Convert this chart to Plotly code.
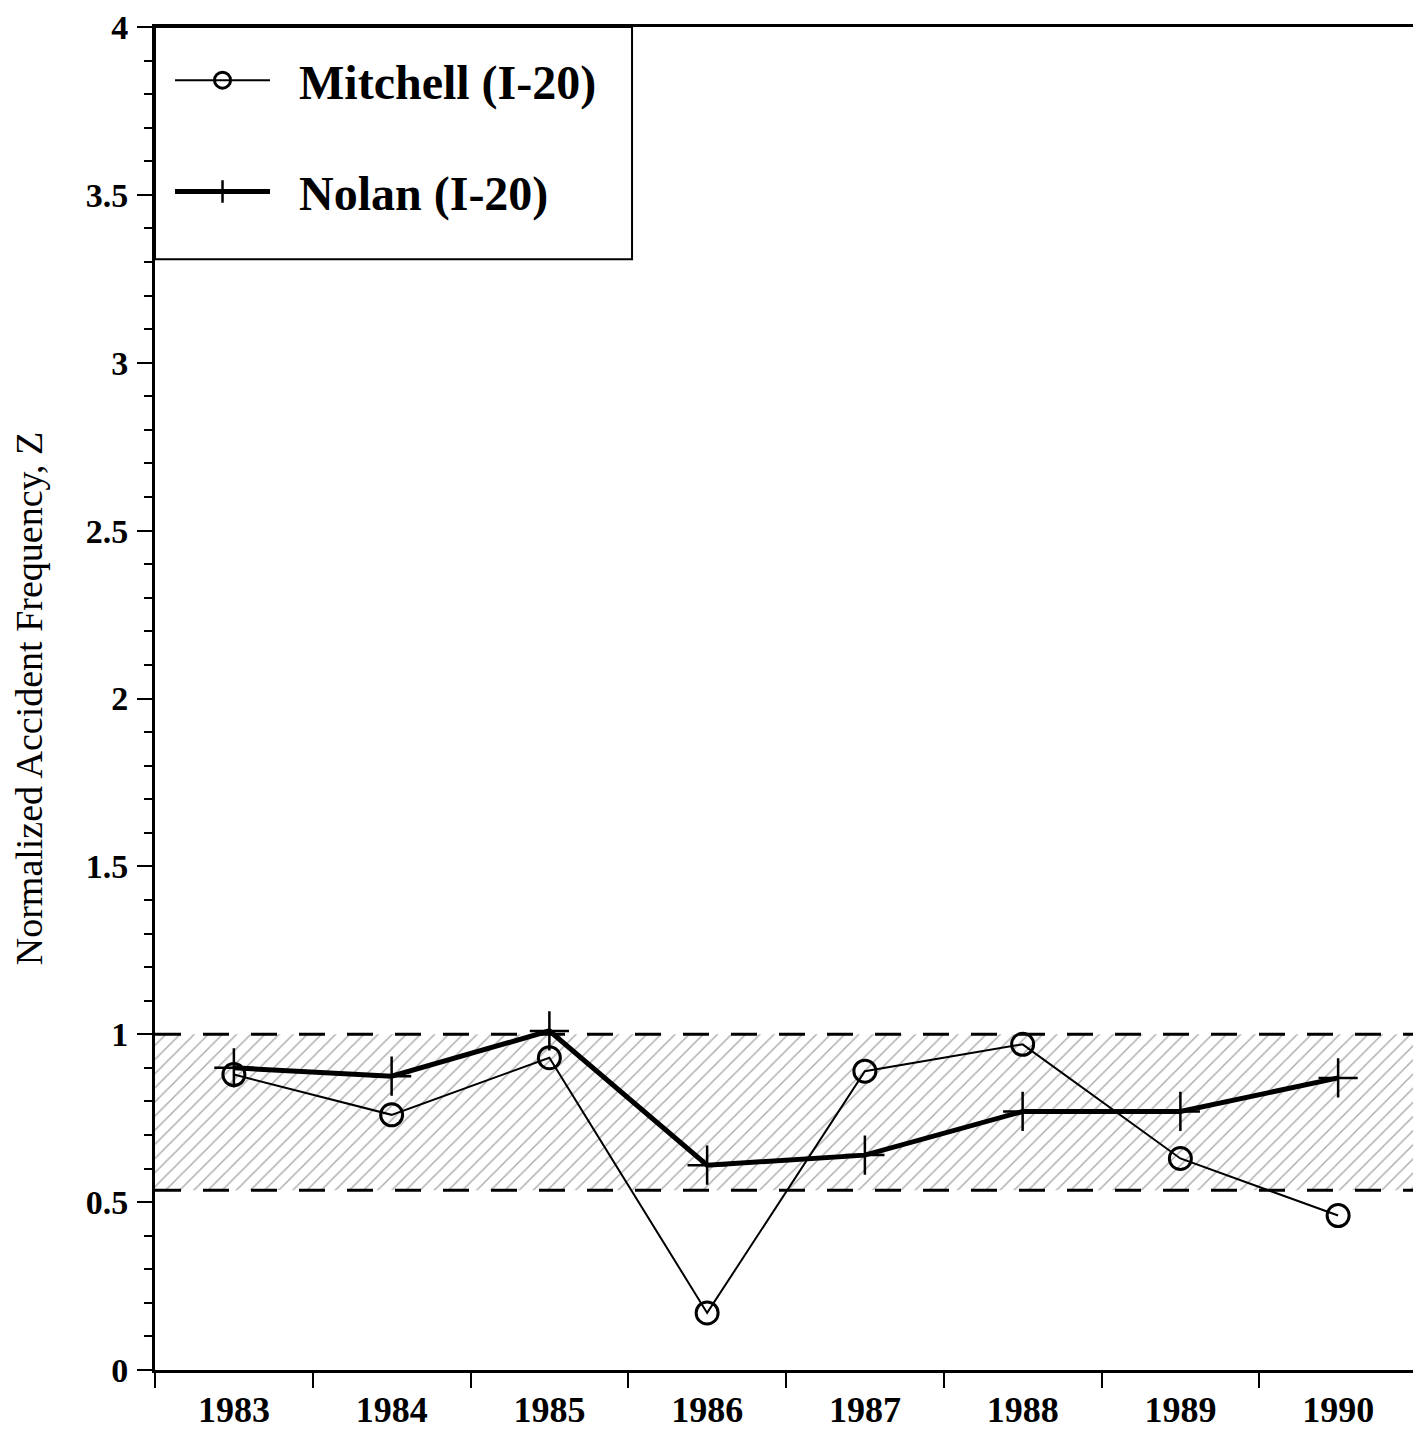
import plotly.graph_objects as go

years = ["1983", "1984", "1985", "1986", "1987", "1988", "1989", "1990"]
mitchell = [0.88, 0.76, 0.93, 0.17, 0.89, 0.97, 0.63, 0.46]
nolan = [0.90, 0.875, 1.01, 0.61, 0.64, 0.77, 0.77, 0.87]
band_low = 0.535
band_high = 1.0
y_ticks = [0, 0.5, 1, 1.5, 2, 2.5, 3, 3.5, 4]
y_tick_text = ["0", "0.5", "1", "1.5", "2", "2.5", "3", "3.5", "4"]

xpos = list(range(len(years)))
x_lo, x_hi = -0.5, len(years) - 0.5

FONT = "Liberation Serif"
NB = "\u00a0"

fig = go.Figure()

# shaded band
fig.add_trace(go.Scatter(
    x=[x_lo, x_hi, x_hi, x_lo, x_lo],
    y=[band_low, band_low, band_high, band_high, band_low],
    fill="toself", mode="none", showlegend=False, hoverinfo="skip",
    fillcolor="rgba(255,255,255,0)",
    fillpattern=dict(shape="/", fgcolor="#555555", bgcolor="white", size=10, solidity=0.14),
))

fig.add_trace(go.Scatter(
    x=xpos, y=mitchell, name=NB * 2 + "Mitchell (I-20)", legendgroup="a",
    mode="lines+markers",
    line=dict(color="black", width=2),
    marker=dict(symbol="circle-open", size=22, color="black", line=dict(width=3)),
))
fig.add_trace(go.Scatter(
    x=xpos, y=nolan, name=NB * 2 + "Nolan (I-20)", legendgroup="b",
    mode="lines+markers",
    line=dict(color="black", width=5),
    marker=dict(symbol="cross-thin-open", size=28, color="black", line=dict(width=2.5, color="black")),
))

for yv in (band_low, band_high):
    fig.add_shape(type="line", xref="x", yref="y", x0=x_lo, x1=x_hi, y0=yv, y1=yv,
                  line=dict(color="black", width=3, dash="26px,22px"))

# legend frame
fig.add_shape(type="rect", xref="paper", yref="paper", x0=0, x1=0.378, y0=0.827, y1=1,
              line=dict(color="black", width=2), fillcolor="rgba(0,0,0,0)", layer="above")

fig.update_layout(
    width=1413, height=1421,
    margin=dict(l=147, r=4, t=19, b=59, autoexpand=False),
    paper_bgcolor="white", plot_bgcolor="white",
    font=dict(family=FONT, color="black"),
    showlegend=True,
    legend=dict(
        x=0.0119, y=0.9885, xanchor="left", yanchor="top",
        borderwidth=0, bgcolor="rgba(0,0,0,0)",
        font=dict(family=FONT, size=48, color="black", weight="bold"),
        itemwidth=95, tracegroupgap=46,
    ),
)

fig.update_xaxes(
    range=[x_lo, x_hi], tickmode="array", tickvals=xpos, ticktext=years,
    ticks="", showgrid=False, zeroline=False, automargin=False,
    showline=True, linecolor="black", linewidth=3, mirror=True,
    tickfont=dict(family=FONT, size=36, weight="bold"),
    ticklabelstandoff=6, ticklabeloverflow="allow",
    minor=dict(tickmode="array", tickvals=[v + 0.5 for v in [-1] + xpos], ticks="outside",
               ticklen=15, tickwidth=2, tickcolor="black"),
)
fig.update_yaxes(
    range=[0, 4], tickmode="array", tickvals=y_ticks, ticktext=y_tick_text,
    ticks="outside", ticklen=15, tickwidth=2, tickcolor="black",
    showgrid=False, zeroline=False, automargin=False,
    showline=True, linecolor="black", linewidth=3, mirror=True,
    tickfont=dict(family=FONT, size=34, weight="bold"),
    ticklabeloverflow="allow", ticklabelstandoff=2,
    title=dict(text="Normalized Accident Frequency, Z", font=dict(family=FONT, size=38), standoff=34),
    minor=dict(dtick=0.1, tick0=0, ticks="outside", ticklen=8, tickwidth=1.5, tickcolor="black"),
)

fig.write_html("out.html")
